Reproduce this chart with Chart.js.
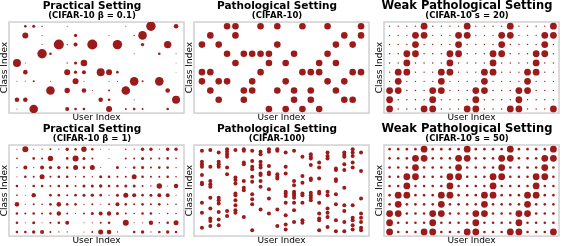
<!DOCTYPE html>
<html>
<head>
<meta charset="utf-8">
<script src="https://cdn.jsdelivr.net/npm/chart.js@4.4.1/dist/chart.umd.min.js"></script>
<style>
  body { margin: 0; background: #fff; width: 565px; height: 246px; position: relative; overflow: hidden; }
  canvas { position: absolute; }
</style>
</head>
<body>
<canvas id="p1" width="186" height="123" style="left:0;top:0"></canvas>
<canvas id="p2" width="186" height="123" style="left:185px;top:0"></canvas>
<canvas id="p3" width="186" height="123" style="left:375px;top:0"></canvas>
<canvas id="p4" width="186" height="123" style="left:0;top:123px"></canvas>
<canvas id="p5" width="186" height="123" style="left:185px;top:123px"></canvas>
<canvas id="p6" width="186" height="123" style="left:375px;top:123px"></canvas>
<script>
// 20 users, samples per (class, user). Rows go class 9 (top) down to class 0.
const practical01 = [
  [0, 169, 225, 49, 0, 0, 25, 0, 0, 0, 0, 0, 0, 25, 0, 0, 2209, 0, 0, 529],
  [0, 900, 0, 25, 0, 0, 0, 256, 0, 0, 0, 25, 0, 0, 49, 1849, 0, 0, 0, 0],
  [0, 0, 0, 25, 0, 2500, 49, 400, 0, 2500, 0, 0, 2209, 0, 0, 289, 0, 0, 1369, 0],
  [0, 0, 0, 2209, 169, 0, 0, 0, 0, 0, 0, 0, 0, 0, 25, 0, 0, 169, 0, 25],
  [1600, 25, 0, 0, 0, 0, 49, 256, 1089, 0, 0, 0, 0, 0, 0, 0, 0, 0, 0, 16],
  [0, 529, 0, 0, 0, 0, 900, 256, 400, 0, 1600, 900, 169, 0, 0, 0, 0, 0, 0, 16],
  [25, 25, 100, 0, 25, 0, 0, 900, 25, 0, 0, 25, 36, 0, 1849, 100, 0, 1849, 0, 0],
  [0, 0, 0, 0, 1849, 0, 729, 0, 529, 25, 0, 100, 0, 1849, 0, 0, 0, 0, 529, 0],
  [529, 529, 0, 0, 0, 0, 0, 0, 0, 0, 529, 169, 0, 0, 25, 0, 0, 0, 0, 1600],
  [25, 0, 1849, 0, 0, 0, 400, 169, 169, 0, 0, 900, 0, 100, 169, 100, 0, 0, 169, 0]
];

const practical1 = [
  [25, 900, 25, 36, 100, 36, 289, 144, 729, 169, 25, 25, 0, 64, 36, 289, 289, 36, 289, 289],
  [64, 0, 169, 100, 729, 0, 169, 900, 225, 100, 0, 25, 0, 100, 100, 225, 100, 100, 169, 64],
  [49, 400, 36, 400, 289, 289, 169, 625, 169, 625, 25, 0, 225, 25, 169, 225, 100, 169, 169, 49],
  [25, 169, 100, 625, 100, 169, 169, 49, 100, 49, 225, 169, 100, 100, 625, 169, 100, 100, 169, 64],
  [169, 25, 169, 169, 100, 169, 169, 100, 225, 225, 289, 169, 169, 225, 225, 100, 49, 729, 25, 484],
  [64, 25, 484, 0, 169, 169, 100, 169, 225, 289, 169, 49, 225, 625, 400, 169, 225, 400, 400, 25],
  [529, 25, 100, 64, 169, 529, 169, 169, 49, 100, 25, 100, 400, 169, 100, 169, 100, 169, 64, 64],
  [169, 100, 169, 100, 169, 484, 100, 25, 100, 225, 400, 484, 225, 100, 64, 169, 169, 25, 64, 64],
  [169, 25, 225, 25, 100, 169, 400, 0, 25, 36, 100, 169, 0, 900, 36, 36, 484, 64, 169, 625],
  [169, 169, 289, 400, 100, 36, 36, 0, 25, 100, 625, 529, 36, 0, 169, 289, 36, 169, 289, 169]
];

// classes held by each user
const patho10 = [
  [7, 4, 3], [8, 4, 2], [7, 3, 1], [9, 6, 3], [9, 8, 5],
  [6, 2, 1], [6, 3, 2], [9, 6, 4], [6, 5, 0], [9, 7, 2],
  [5, 3, 0], [6, 2, 1], [9, 4, 0], [4, 2, 1], [5, 4, 0],
  [9, 6, 3], [7, 5, 2], [8, 3, 1], [7, 4, 1], [9, 8, 4]
];

const patho100 = [
  [97, 84, 81, 78, 68, 59, 57, 35, 23, 5],
  [98, 78, 61, 57, 54, 41, 28, 16, 13, 7],
  [95, 84, 81, 78, 41, 38, 34, 24, 15, 8],
  [99, 96, 93, 90, 77, 69, 25, 19],
  [98, 65, 62, 58, 46, 44, 38, 32, 26, 23],
  [99, 97, 83, 81, 61, 53, 50, 18],
  [97, 85, 78, 75, 66, 60, 45, 39, 33, 2],
  [96, 93, 84, 80, 77, 70, 68, 61, 54, 27],
  [99, 96, 79, 71, 69, 51, 40, 22],
  [99, 97, 69, 66, 64, 27, 7],
  [95, 78, 70, 48, 46, 43, 35, 20, 9, 3],
  [97, 61, 56, 48, 46, 44, 41, 35, 26, 12],
  [90, 67, 59, 46, 44, 35, 14, 11],
  [93, 90, 88, 80, 64, 62, 47, 44, 41, 38],
  [83, 77, 64, 48, 46, 35, 22, 16, 14, 2],
  [95, 91, 88, 48, 44, 28, 23, 18, 6],
  [76, 74, 63, 61, 45, 33, 14, 1],
  [95, 92, 90, 81, 74, 53, 32, 25, 12, 1],
  [99, 95, 91, 83, 77, 32, 17, 14, 8, 3],
  [95, 73, 40, 22, 17, 12, 5, 2]
];

// weak pathological: dominant classes per user, share (%) of dominant / other classes
const weakMain = [
  [0, 1, 2], [2, 3, 4], [4, 5, 6], [6, 7, 8], [8, 9, 0],
  [0, 1, 2], [2, 3, 4], [4, 5, 6], [6, 7, 8], [8, 9, 0],
  [0, 1, 2], [2, 3, 4], [4, 5, 6], [6, 7, 8], [8, 9, 0],
  [0, 1, 2], [2, 3, 4], [4, 5, 6], [6, 7, 8], [8, 9, 0]
];
const weak20Share = [28, 1.2];
const weak50Share = [22, 3.2];

const dotColor = '#9b1b1b';
const font = 'DejaVu Sans';

// light grey box around the plot area
const frame = {
  id: 'frame',
  beforeDatasetsDraw(chart) {
    const a = chart.chartArea, ctx = chart.ctx;
    ctx.save();
    ctx.strokeStyle = '#d0d0d0';
    ctx.lineWidth = 1.5;
    ctx.strokeRect(a.left, a.top, a.right - a.left, a.bottom - a.top);
    ctx.restore();
  }
};

function matrixPoints(m) {
  const pts = [];
  m.forEach((row, i) => row.forEach((v, u) => {
    if (v > 0) pts.push({ x: u, y: 9 - i, r: Math.sqrt(v) / 10 });
  }));
  return pts;
}

function listPoints(lists, r) {
  const pts = [];
  lists.forEach((cls, u) => cls.forEach(c => pts.push({ x: u, y: c, r: r })));
  return pts;
}

function weakPoints(share) {
  const pts = [];
  weakMain.forEach((main, u) => {
    for (let c = 0; c < 10; c++) {
      const v = main.includes(c) ? share[0] : share[1];
      pts.push({ x: u, y: c, r: 3.4 * Math.sqrt(v / share[0]) });
    }
  });
  return pts;
}

function makePanel(id, title, sub, points, xr, yr, titleFont) {
  new Chart(document.getElementById(id), {
    type: 'bubble',
    data: { datasets: [{ data: points, backgroundColor: dotColor, borderWidth: 0, hoverRadius: 0 }] },
    options: {
      responsive: false,
      animation: false,
      events: [],
      layout: { padding: { left: 0, right: 2, top: 0, bottom: 0 }, autoPadding: false },
      plugins: {
        legend: { display: false },
        tooltip: { enabled: false },
        title: { display: true, text: title, color: '#000',
          font: Object.assign({ family: font, weight: 'bold' }, titleFont), padding: { top: 0, bottom: 0 } },
        subtitle: { display: true, text: sub, color: '#000',
          font: { family: font, size: 8.5, weight: 'bold', lineHeight: 1 }, padding: { top: 0, bottom: 2 } }
      },
      scales: {
        x: { type: 'linear', min: xr[0], max: xr[1], ticks: { display: false },
          grid: { display: false, drawTicks: false }, border: { display: false },
          title: { display: true, text: 'User Index', color: '#000',
            font: { family: font, size: 9, lineHeight: 1.1 }, padding: 0 } },
        y: { type: 'linear', min: yr[0], max: yr[1], ticks: { display: false },
          grid: { display: false, drawTicks: false }, border: { display: false },
          title: { display: true, text: 'Class Index', color: '#000',
            font: { family: font, size: 9, lineHeight: 1 }, padding: 0 } }
      }
    },
    plugins: [frame]
  });
}

const xWide = [-0.95, 19.95], xTight = [-0.65, 19.65];
const y10 = [-0.45, 9.45], y100 = [-4.95, 103.95];
const normalTitle = { size: 10.5, lineHeight: 1.1 };
const wideTitle = { size: 11.5, lineHeight: 1 };

makePanel('p1', 'Practical Setting', '(CIFAR-10 β = 0.1)', matrixPoints(practical01), xWide, y10, normalTitle);
makePanel('p2', 'Pathological Setting', '(CIFAR-10)', listPoints(patho10, 3.3), xWide, y10, normalTitle);
makePanel('p3', 'Weak Pathological Setting', '(CIFAR-10 s = 20)', weakPoints(weak20Share), xTight, y10, wideTitle);
makePanel('p4', 'Practical Setting', '(CIFAR-10 β = 1)', matrixPoints(practical1), xWide, y10, normalTitle);
makePanel('p5', 'Pathological Setting', '(CIFAR-100)', listPoints(patho100, 2), xWide, y100, normalTitle);
makePanel('p6', 'Weak Pathological Setting', '(CIFAR-10 s = 50)', weakPoints(weak50Share), xTight, y10, wideTitle);
</script>
</body>
</html>
